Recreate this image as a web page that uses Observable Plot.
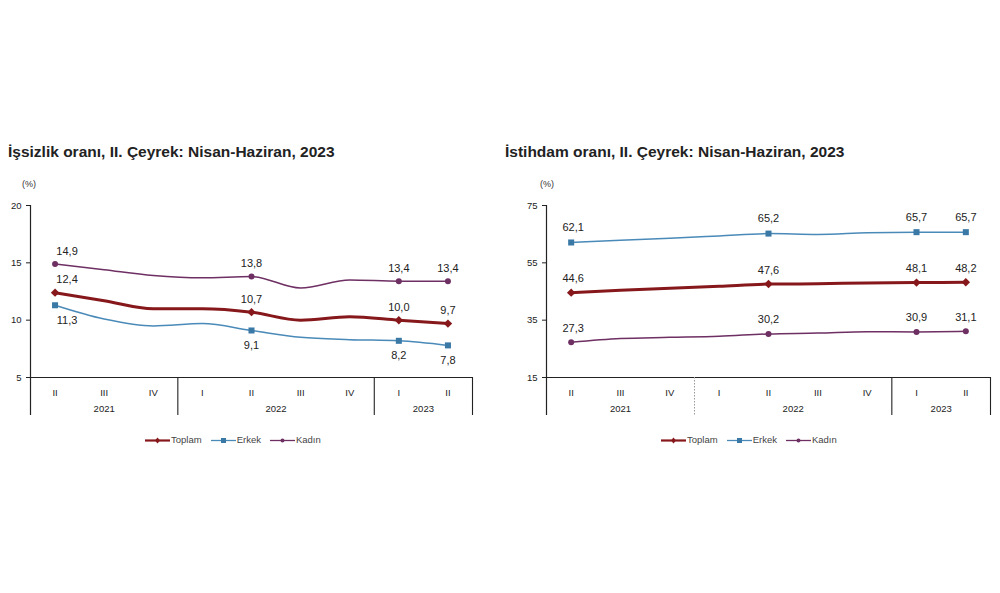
<!DOCTYPE html>
<html><head><meta charset="utf-8">
<script src="https://cdn.jsdelivr.net/npm/d3@7"></script>
<script src="https://cdn.jsdelivr.net/npm/@observablehq/plot@0.6"></script>
<style>
body{margin:0;background:#fff;font-family:"Liberation Sans",Arial,sans-serif;}
#page{position:relative;width:1000px;height:593px;overflow:hidden;background:#fff;}
.title{position:absolute;font-weight:bold;font-size:15.5px;line-height:18px;color:#222;white-space:nowrap;}
.unit{position:absolute;font-size:9px;line-height:10px;color:#333;}
.legend{position:absolute;font-size:9.5px;line-height:10px;color:#444;display:flex;align-items:center;gap:9px;white-space:nowrap;}
.legend span.item{display:flex;align-items:center;gap:1px;}
.chart{position:absolute;}
</style></head><body><div id="page"></div>
<script>
// ---- data ----
const quarters = ["II","III","IV","I","II","III","IV","I","II"];
const quarterYears = ["2021","2021","2021","2022","2022","2022","2022","2023","2023"];
const seriesNames = ["Toplam","Erkek","Kadın"];
const labeledIdx = [0,4,7,8];

const unempTitle = "İşsizlik oranı, II. Çeyrek: Nisan-Haziran, 2023";
const unempToplam = [12.4, 11.7, 11.0, 11.0, 10.7, 10.0, 10.3, 10.0, 9.7];
const unempErkek  = [11.3, 10.1, 9.5, 9.7, 9.1, 8.5, 8.3, 8.2, 7.8];
const unempKadin  = [14.9, 14.4, 13.9, 13.7, 13.8, 12.8, 13.5, 13.4, 13.4];
const unempTicks  = [5, 10, 15, 20];

const emplTitle = "İstihdam oranı, II. Çeyrek: Nisan-Haziran, 2023";
const emplToplam = [44.6, 45.4, 46.1, 46.8, 47.6, 47.7, 48.0, 48.1, 48.2];
const emplErkek  = [62.1, 62.9, 63.6, 64.4, 65.2, 64.9, 65.5, 65.7, 65.7];
const emplKadin  = [27.3, 28.6, 29.0, 29.4, 30.2, 30.5, 31.0, 30.9, 31.1];
const emplTicks  = [15, 35, 55, 75];

const unitLabel = "(%)";

// ---- styles ----
const styles = {
  "Toplam": {stroke:"#86181b", width:3, symbol:"diamond2", r:3.8},
  "Erkek":  {stroke:"#4a8ab8", fill:"#3a78a6", width:1.5, symbol:"square", r:3.4},
  "Kadın":  {stroke:"#6e2f63", width:1.5, symbol:"circle", r:3.0}
};
const fmt = v => v.toFixed(1).replace(".", ",");

const page = document.getElementById("page");
function addDiv(cls, text, left, top){
  const d = document.createElement("div");
  d.className = cls; d.textContent = text;
  d.style.left = left + "px"; d.style.top = top + "px";
  page.appendChild(d); return d;
}

function legend(left, top){
  const d = document.createElement("div");
  d.className = "legend";
  d.style.left = left + "px"; d.style.top = top + "px";
  for (const s of seriesNames) {
    const st = styles[s];
    const it = document.createElement("span"); it.className = "item";
    const marker = st.symbol === "square"
      ? `<rect x="10" y="2" width="5" height="5" fill="${st.fill||st.stroke}"/>`
      : st.symbol === "circle"
      ? `<circle cx="12.5" cy="4.5" r="2" fill="${st.stroke}"/>`
      : `<path d="M12.5 1.5 L15 4.5 L12.5 7.5 L10 4.5Z" fill="${st.stroke}"/>`;
    it.innerHTML = `<svg width="25" height="9"><line x1="0" x2="25" y1="4.5" y2="4.5" stroke="${st.stroke}" stroke-width="${st.width===3?2.2:1.3}"/>${marker}</svg><span>${s}</span>`;
    d.appendChild(it);
  }
  page.appendChild(d);
}

function makeChart(cfg){
  const {series, ticks, width, height, marginLeft, marginRight, marginTop, marginBottom, labelDy, firstDx, dottedFirstSep} = cfg;
  const yMin = d3.min(ticks), yMax = d3.max(ticks);
  const rows = [];
  seriesNames.forEach((s, k) => series[k].forEach((v, i) => rows.push({series:s, i, v})));
  const groups = d3.groups(quarterYears.map((y, i) => ({y, i})), d => d.y)
    .map(([year, arr]) => ({year, start: d3.min(arr, d => d.i) - 0.5, end: d3.max(arr, d => d.i) + 0.5, center: d3.mean(arr, d => d.i)}));
  const innerH = height - marginTop - marginBottom;
  const bounds = groups.map(g => g.end);   // separators after each group
  const solidSeps = dottedFirstSep ? bounds.slice(1) : bounds;
  const dottedSeps = dottedFirstSep ? bounds.slice(0, 1) : [];

  const marks = [
    Plot.axisY(ticks, {tickSize:4, tickPadding:5, fontSize:9.5, fill:"#222", stroke:"#222", label:null}),
    Plot.ruleY([yMin], {stroke:"#222", strokeWidth:1.2}),
    Plot.ruleX([groups[0].start], {stroke:"#222", strokeWidth:1.2, insetBottom:-38}),
    Plot.ruleX(solidSeps, {stroke:"#222", strokeWidth:1.1, insetTop:innerH, insetBottom:-38}),
    Plot.ruleX(dottedSeps, {stroke:"#999", strokeWidth:1, strokeDasharray:"1.5,1.5", insetTop:innerH, insetBottom:-38}),
    Plot.text(quarters, {x:(d,i)=>i, y:()=>yMin, text:d=>d, dy:15, fontSize:9.5, fill:"#222"}),
    Plot.text(groups, {x:"center", y:()=>yMin, text:"year", dy:31, fontSize:9.5, fill:"#222"})
  ];
  for (const s of seriesNames) {
    const st = styles[s];
    const data = rows.filter(r => r.series === s);
    const lab = data.filter(r => labeledIdx.includes(r.i));
    marks.push(Plot.line(data, {x:"i", y:"v", stroke:st.stroke, strokeWidth:st.width, curve:"monotone-x"}));
    marks.push(Plot.dot(lab, {x:"i", y:"v", symbol:st.symbol, r:st.r, fill:st.fill||st.stroke, stroke:"none"}));
    marks.push(Plot.text(lab.filter(d => d.i === 0), {x:"i", y:"v", text:d=>fmt(d.v), dy:labelDy[s], dx:firstDx, fontSize:11, fill:"#222"}));
    marks.push(Plot.text(lab.filter(d => d.i !== 0), {x:"i", y:"v", text:d=>fmt(d.v), dy:labelDy[s], fontSize:11, fill:"#222"}));
  }
  return Plot.plot({
    width, height, marginLeft, marginRight, marginTop, marginBottom,
    style:{fontFamily:"'Liberation Sans', Arial, sans-serif", background:"transparent", overflow:"visible"},
    x:{domain:[-0.5, quarters.length - 0.5], axis:null},
    y:{domain:[yMin, yMax], axis:null},
    marks
  });
}

// left chart
addDiv("title", unempTitle, 8, 143);
addDiv("unit", unitLabel, 22, 179);
const c1 = makeChart({
  series:[unempToplam, unempErkek, unempKadin], ticks:unempTicks,
  width:490, height:230, marginLeft:30, marginRight:18, marginTop:10, marginBottom:48,
  labelDy:{"Toplam":-13, "Erkek":15, "Kadın":-13}, firstDx:12, dottedFirstSep:false
});
const w1 = document.createElement("div"); w1.className = "chart"; w1.style.left = "0px"; w1.style.top = "195px";
w1.appendChild(c1); page.appendChild(w1);
legend(145, 435);

// right chart
addDiv("title", emplTitle, 505, 143);
addDiv("unit", unitLabel, 540, 179);
const c2 = makeChart({
  series:[emplToplam, emplErkek, emplKadin], ticks:emplTicks,
  width:500, height:230, marginLeft:49, marginRight:7, marginTop:10, marginBottom:48,
  labelDy:{"Toplam":-14, "Erkek":-15, "Kadın":-14}, firstDx:2, dottedFirstSep:true
});
const w2 = document.createElement("div"); w2.className = "chart"; w2.style.left = "497px"; w2.style.top = "195px";
w2.appendChild(c2); page.appendChild(w2);
legend(661, 435);
</script></body></html>
